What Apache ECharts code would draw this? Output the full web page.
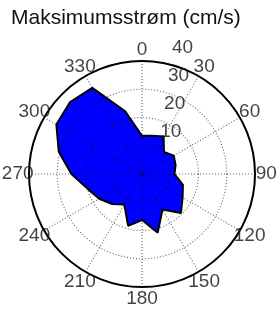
<!DOCTYPE html>
<html>
<head>
<meta charset="utf-8">
<script src="https://cdn.jsdelivr.net/npm/echarts@6/dist/echarts.min.js"></script>
<style>
html, body { margin: 0; padding: 0; background: #fff; }
#main { width: 280px; height: 312px; }
</style>
</head>
<body>
<div id="main"></div>
<script>
var titleText = 'Maksimumsstrøm (cm/s)';
// direction in degrees (clockwise from north) and max current speed in cm/s
var directions = [0, 15, 30, 45, 60, 75, 90, 105, 120, 135, 150, 165,
	180, 195, 210, 225, 240, 255, 270, 285, 300, 315, 330, 345];
var speeds = [13.5, 14, 15.3, 11, 13, 12.3, 11.5, 15, 16.6, 19.5, 14.5, 21.5,
	16.3, 19, 12.5, 15, 17.5, 20, 25, 30.5, 35, 36, 35.2, 23];
var ringTicks = [10, 20, 30, 40];
var angleTicks = [0, 30, 60, 90, 120, 150, 180, 210, 240, 270, 300, 330];

var chart = echarts.init(document.getElementById('main'));

var gridLine = { color: 'rgba(0,0,0,0.6)', width: 1.1, type: [1, 2] };
var labelFont = { fontFamily: 'Liberation Sans', fontSize: 19, color: '#111' };

// closed outline: repeat first point at 360
var outline = [];
for (var i = 0; i < directions.length; i++) {
	outline.push([speeds[i], directions[i]]);
}
outline.push([speeds[0], 360]);

// ring labels sit a little off the north spoke, like matlab polar()
var ringLabelData = ringTicks.map(function (t) {
	return { value: [t + 0.5, 8], name: String(t) };
});
var angleLabelData = angleTicks.map(function (a) {
	return { value: [44, a], name: String(a) };
});

var option = {
	animation: false,
	title: {
		text: titleText,
		left: 11,
		top: 8,
		padding: 0,
		textStyle: { fontFamily: 'Liberation Sans', fontSize: 21, fontWeight: 'normal', color: '#111' }
	},
	polar: { center: [142, 174], radius: 113 },
	angleAxis: {
		type: 'value', min: 0, max: 360, interval: 30,
		startAngle: 90, clockwise: true,
		axisLine: { lineStyle: { color: '#000', width: 2 } },
		axisTick: { show: false },
		axisLabel: { show: false },
		splitLine: { lineStyle: gridLine },
		z: 5
	},
	radiusAxis: {
		type: 'value', min: 0, max: 40, interval: 10,
		axisLine: { show: false },
		axisTick: { show: false },
		axisLabel: { show: false },
		splitLine: { lineStyle: gridLine },
		z: 5
	},
	series: [
		{
			type: 'line',
			coordinateSystem: 'polar',
			data: outline,
			symbol: 'none',
			smooth: false,
			lineStyle: { color: '#000', width: 2 },
			areaStyle: { color: '#0000ff', opacity: 1 },
			z: 2
		},
		{
			type: 'scatter',
			coordinateSystem: 'polar',
			clip: false,
			silent: true,
			symbolSize: 0,
			data: ringLabelData,
			label: Object.assign({ show: true, position: 'right', distance: 14, offset: [0, -13], formatter: '{b}' }, labelFont),
			z: 10
		},
		{
			type: 'scatter',
			coordinateSystem: 'polar',
			clip: false,
			silent: true,
			symbolSize: 0,
			data: angleLabelData,
			label: Object.assign({ show: true, position: 'inside', formatter: '{b}' }, labelFont),
			z: 10
		}
	]
};
chart.setOption(option);
</script>
</body>
</html>
